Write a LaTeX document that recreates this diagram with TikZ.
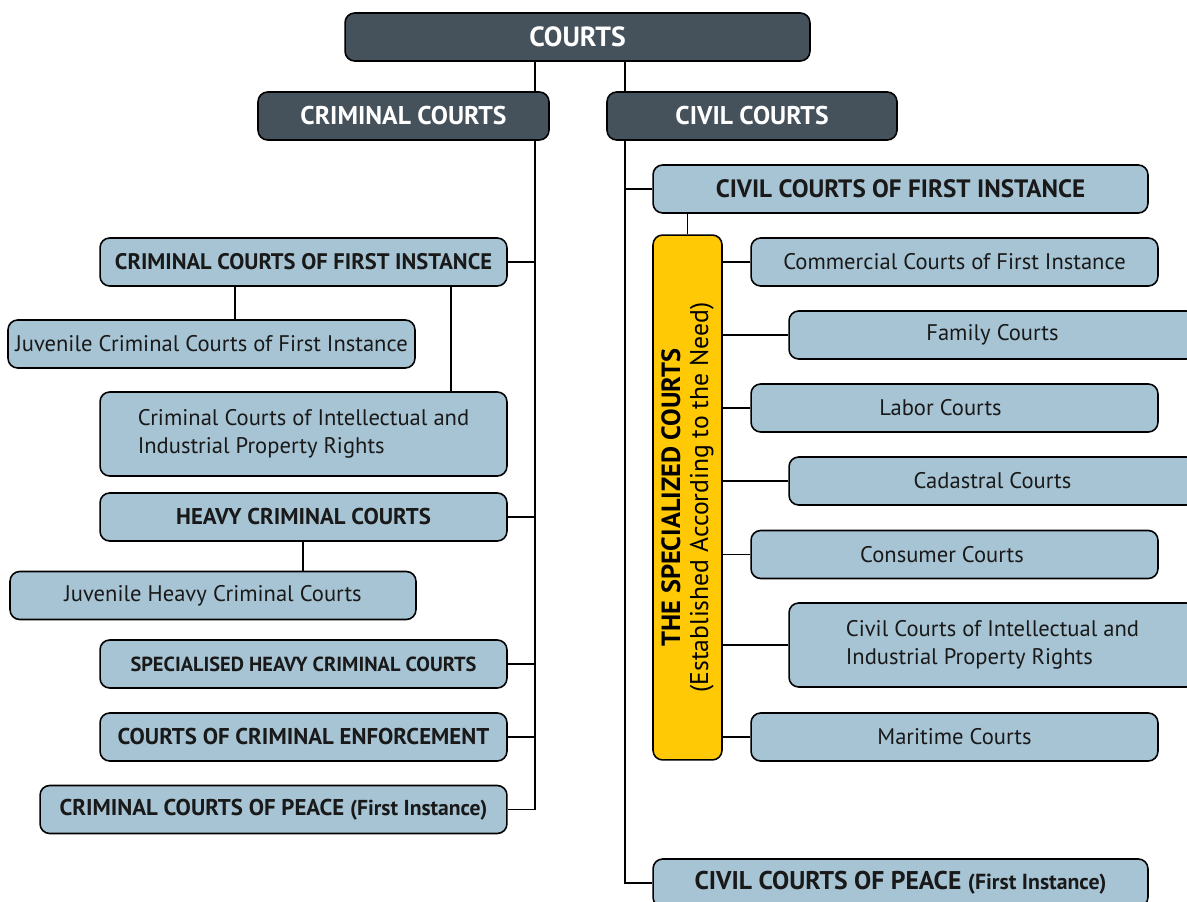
\documentclass[tikz,border=0pt]{standalone}
\usepackage{fontspec}
\setmainfont{PT Sans}
\usetikzlibrary{positioning}
\definecolor{slate}{HTML}{45525C}
\definecolor{paleblue}{HTML}{A7C4D4}
\definecolor{gold}{HTML}{FFCA05}

\begin{document}
\begin{tikzpicture}[x=0.02cm,y=-0.02cm,
    box/.style={draw=black,line width=0.9pt,rounded corners=5.5pt,minimum height=0.96cm,inner sep=2pt},
    headbox/.style={box,fill=slate,text=white,font=\fontsize{14.6}{17}\selectfont\bfseries},
    courtbox/.style={box,fill=paleblue,text=black!90,font=\fontsize{12.85}{16}\selectfont},
    bigcap/.style={font=\fontsize{14.3}{17}\selectfont\bfseries},
    link/.style={line width=0.85pt,black}]
    \clip (0,0) rectangle (1187,902);

    % top levels
    \node[headbox,minimum width=9.3cm,font=\fontsize{15.8}{18}\selectfont\bfseries] (courts) at (577.5,37) {COURTS};
    \node[headbox,minimum width=5.82cm] (crim) at (403.5,116) {CRIMINAL COURTS};
    \node[headbox,minimum width=5.8cm] (civ) at (752,116) {CIVIL COURTS};

    % criminal side
    \node[courtbox,minimum width=8.14cm,font=\fontsize{12.8}{16}\selectfont\bfseries] (cfi) at (303.5,262) {CRIMINAL COURTS OF FIRST INSTANCE};
    \node[courtbox,minimum width=8.14cm] (juvcfi) at (211.5,344) {Juvenile Criminal Courts of First Instance};
    \node[courtbox,minimum width=8.14cm,minimum height=1.68cm,align=left] (cip) at (303.5,434) {Criminal Courts of Intellectual and\\Industrial Property Rights};
    \node[courtbox,minimum width=8.14cm,font=\fontsize{13}{16}\selectfont\bfseries] (heavy) at (303.5,517) {HEAVY CRIMINAL COURTS};
    \node[courtbox,minimum width=8.12cm] (juvheavy) at (213,595.5) {Juvenile Heavy Criminal Courts};
    \node[courtbox,minimum width=8.14cm,font=\fontsize{11.6}{14}\selectfont\bfseries] (spec) at (303.5,664) {SPECIALISED HEAVY CRIMINAL COURTS};
    \node[courtbox,minimum width=8.14cm,font=\fontsize{13}{16}\selectfont\bfseries] (enf) at (303.5,737) {COURTS OF CRIMINAL ENFORCEMENT};
    \node[courtbox,minimum width=9.34cm,font=\fontsize{13}{16}\selectfont\bfseries] (peace) at (273.5,809.5) {CRIMINAL COURTS OF PEACE {\fontsize{12.3}{14}\selectfont(First Instance)}};

    % civil side
    \node[courtbox,minimum width=9.9cm,bigcap] (civfi) at (900.5,189) {CIVIL COURTS OF FIRST INSTANCE};
    \node[box,fill=gold,rotate=90,minimum width=10.5cm,minimum height=1.38cm,align=center,inner sep=0pt,
          font=\fontsize{14.6}{16}\selectfont] (special) at (687.5,497.5) {{\fontsize{15}{16}\selectfont\bfseries THE SPECIALIZED COURTS}\\(Established According to the Need)};
    \node[courtbox,minimum width=8.14cm] (comm) at (954.5,262) {Commercial Courts of First Instance};
    \node[courtbox,minimum width=8.14cm] (family) at (992.5,335) {Family Courts};
    \node[courtbox,minimum width=8.14cm] (labor) at (954.5,408) {Labor Courts\hspace*{0.56cm}};
    \node[courtbox,minimum width=8.14cm] (cadas) at (992.5,481) {Cadastral Courts};
    \node[courtbox,minimum width=8.14cm] (consum) at (954.5,554.5) {Consumer Courts\hspace*{0.5cm}};
    \node[courtbox,minimum width=8.14cm,minimum height=1.68cm,align=left] (civip) at (992.5,645) {Civil Courts of Intellectual and\\Industrial Property Rights};
    \node[courtbox,minimum width=8.14cm] (marit) at (954.5,737) {Maritime Courts};
    \node[courtbox,minimum width=9.9cm,font=\fontsize{14.6}{16}\selectfont\bfseries] (civpeace) at (900.5,883) {CIVIL COURTS OF PEACE {\fontsize{12.4}{14}\selectfont(First Instance)}};

    % trunks
    \draw[link] (courts.south -| 535,0) -- (crim.north -| 535,0);
    \draw[link] (crim.south -| 535,0) |- (peace.east);
    \foreach \n in {cfi,heavy,spec,enf}
        \draw[link] (\n.east) -- (\n.east -| 535,0);
    \draw[link] (courts.south -| 625,0) -- (civ.north -| 625,0);
    \draw[link] (civ.south -| 625,0) |- (civpeace.west);
    \draw[link] (civfi.west) -- (civfi.west -| 625,0);

    % sub branches
    \draw[link] (cfi.south -| 235,0) -- (juvcfi.north -| 235,0);
    \draw[link] (cfi.south -| 451,0) -- (cip.north -| 451,0);
    \draw[link] (heavy.south -| 303,0) -- (juvheavy.north -| 303,0);
    \draw[link] (special.east) -- (special.east |- civfi.south);
    \foreach \n in {comm,family,labor,cadas,consum,civip,marit}
        \draw[link] (\n.west) -- (\n.west -| special.south);
\end{tikzpicture}
\end{document}
